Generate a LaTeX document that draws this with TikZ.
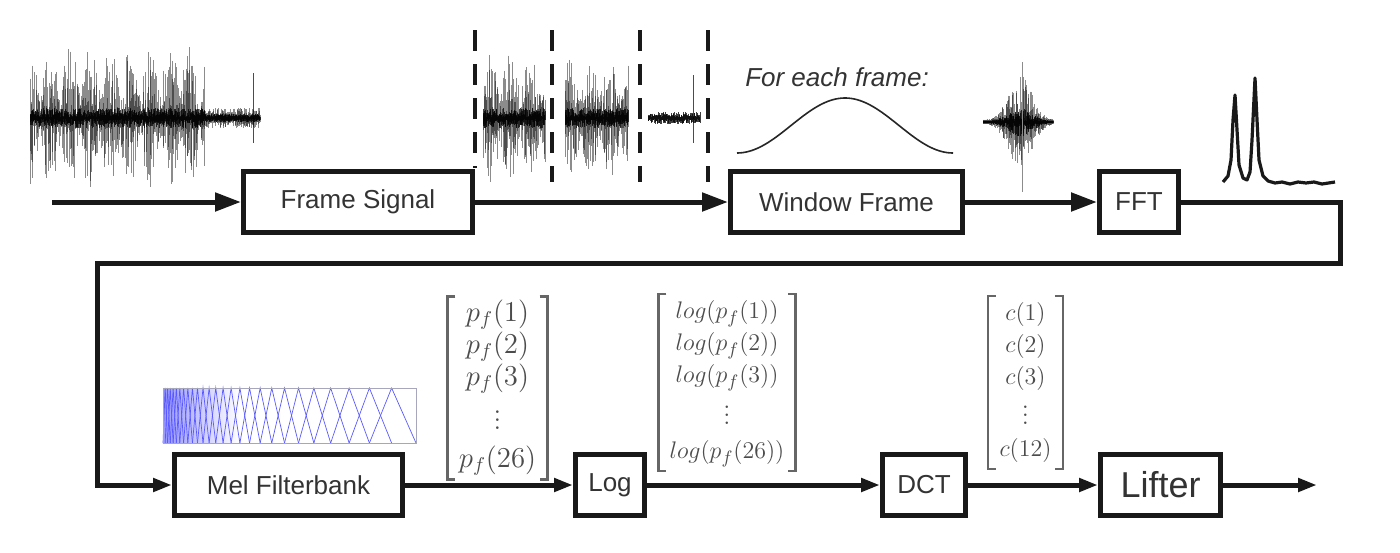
\documentclass[tikz,border=0pt]{standalone}
\usepackage[no-math]{fontspec}
\usepackage{amsmath}
\newfontfamily\lsans{Liberation Sans}
\usetikzlibrary{arrows.meta}
\tikzset{
  box/.style={draw=black!90, line width=2.5pt, inner sep=0pt, minimum height=30.5pt,
    font=\lsans\fontsize{13}{15}\selectfont, text=black!80},
  conn/.style={line width=2.5pt, draw=black!90},
  arrU/.style={conn, -{Triangle[length=13pt,width=9pt]}},
  arrL/.style={conn, -{Triangle[length=9.5pt,width=6.5pt]}},
  vec/.style={font=\fontsize{13}{16}\selectfont, text=black!70, inner xsep=0.5pt, inner ysep=2pt},
  brk/.style={draw=black!60, line width=1.3pt},
  cut/.style={line width=2pt, draw=black!90, dash pattern=on 10.5pt off 6.5pt},
  wavel/.style={black, line width=0.45pt, opacity=0.45},
  wavec/.style={black, line width=0.5pt, opacity=0.75},
  melline/.style={draw=blue!65!white, line width=0.35pt},
}
\begin{document}
\begin{tikzpicture}[x=0.5pt,y=-0.5pt]
\useasboundingbox (0,0) rectangle (1400,552);

% ---------- waveform 1 ----------
\pgfmathsetseed{11}
\foreach \xx in {30,30.5,...,260}{
  \pgfmathsetmacro\ea{\xx<205 ? 68*(0.3+0.7*abs(sin(\xx*9))) : 7}
  \pgfmathsetmacro\ra{rnd}\pgfmathsetmacro\rb{rnd}\pgfmathsetmacro\rc{rnd}\pgfmathsetmacro\rd{rnd}
  \pgfmathsetmacro\up{\ea*\ra*sqrt(\ra)+3}
  \pgfmathsetmacro\dn{\ea*\rb*sqrt(\rb)+3}
  \pgfmathsetmacro\cu{(\xx<205 ? 9 : 3)*\rc+1}
  \pgfmathsetmacro\cd{(\xx<205 ? 9 : 3)*\rd+1}
  \draw[wavel] (\xx,{118-\up}) -- (\xx,{118+\dn});
  \draw[wavec] (\xx,{118-\cu}) -- (\xx,{118+\cd});
}
\draw[wavel,opacity=0.7] (253,73) -- (253,143);

% ---------- framed segments ----------
\pgfmathsetseed{23}
\foreach \xx in {483,483.5,...,545}{
  \pgfmathsetmacro\ea{62*(0.3+0.7*abs(sin(\xx*9)))}
  \pgfmathsetmacro\ra{rnd}\pgfmathsetmacro\rb{rnd}\pgfmathsetmacro\rc{rnd}\pgfmathsetmacro\rd{rnd}
  \pgfmathsetmacro\up{\ea*\ra*sqrt(\ra)+3}
  \pgfmathsetmacro\dn{\ea*\rb*sqrt(\rb)+3}
  \draw[wavel] (\xx,{118-\up}) -- (\xx,{118+\dn});
  \draw[wavec] (\xx,{118-9*\rc-1}) -- (\xx,{118+9*\rd+1});
}
\foreach \xx in {565,565.5,...,628}{
  \pgfmathsetmacro\ea{58*(0.3+0.7*abs(sin(\xx*9)))}
  \pgfmathsetmacro\ra{rnd}\pgfmathsetmacro\rb{rnd}\pgfmathsetmacro\rc{rnd}\pgfmathsetmacro\rd{rnd}
  \pgfmathsetmacro\up{\ea*\ra*sqrt(\ra)+3}
  \pgfmathsetmacro\dn{\ea*\rb*sqrt(\rb)+3}
  \draw[wavel] (\xx,{118-\up}) -- (\xx,{118+\dn});
  \draw[wavec] (\xx,{118-9*\rc-1}) -- (\xx,{118+9*\rd+1});
}
\foreach \xx in {648,648.5,...,700}{
  \pgfmathsetmacro\ra{rnd}\pgfmathsetmacro\rb{rnd}
  \pgfmathsetmacro\up{5*\ra+1}
  \pgfmathsetmacro\dn{5*\rb+1}
  \draw[wavec] (\xx,{118-\up}) -- (\xx,{118+\dn});
}
\draw[wavel,opacity=0.7] (693,75) -- (693,143);

% dashed frame cuts
\draw[cut] (475,30) -- (475,168);
\draw[cut] (552,30) -- (552,182);
\draw[cut] (640,30) -- (640,182);
\draw[cut] (708,30) -- (708,182);

% ---------- window ----------
\node[font=\lsans\itshape\fontsize{13}{15}\selectfont, text=black!80] (fef) at (837,77) {For each frame:};
\draw[black!85, line width=0.8pt] plot[domain=0:216, samples=80] ({737+\x}, {153-55*(0.5-0.5*cos(1.66667*\x))});

% ---------- windowed frame ----------
\pgfmathsetseed{5}
\foreach \xx in {983,983.5,...,1053}{
  \pgfmathsetmacro\ea{46*exp(-((\xx-1020)/16)^2)}
  \pgfmathsetmacro\ra{rnd}\pgfmathsetmacro\rb{rnd}\pgfmathsetmacro\rc{rnd}\pgfmathsetmacro\rd{rnd}
  \pgfmathsetmacro\up{\ea*\ra+2}
  \pgfmathsetmacro\dn{\ea*\rb+2}
  \draw[wavel] (\xx,{122-\up}) -- (\xx,{122+\dn});
  \draw[wavec] (\xx,{122-0.3*\ea*\rc-1}) -- (\xx,{122+0.3*\ea*\rd+1});
}
\draw[black!45, line width=0.4pt] (1022,62) -- (1022,192);

% ---------- spectrum ----------
\draw[black!90, line width=1.6pt, line join=round]
  (1223,182) -- (1228,176) -- (1231,160) -- (1233,120) -- (1235,95) -- (1237,130)
  -- (1239,165) -- (1243,178) -- (1247,180) -- (1250,172) -- (1252,140) -- (1255,78)
  -- (1257,120) -- (1259,160) -- (1263,176) -- (1268,181) -- (1275,183) -- (1282,182)
  -- (1290,184) -- (1298,182) -- (1306,183) -- (1314,182) -- (1322,184) -- (1335,182);

% ---------- mel filterbank picture ----------
\shade[left color=blue!40!white, right color=white] (163,388) rectangle (240,443);
\foreach \i in {1,...,26}{
  \pgfmathsetmacro\fa{163+253*(exp(2.5*(\i-1)/27)-1)/(exp(2.5)-1)}
  \pgfmathsetmacro\fb{163+253*(exp(2.5*\i/27)-1)/(exp(2.5)-1)}
  \pgfmathsetmacro\fc{163+253*(exp(2.5*(\i+1)/27)-1)/(exp(2.5)-1)}
  \draw[melline] (\fa,443) -- (\fb,388) -- (\fc,443);
}
\draw[blue!25!black!35, line width=0.5pt] (163,388) rectangle (416,443);

% ---------- boxes ----------
\node[box, minimum width=114.5pt] (frame) at (358,202) {Frame Signal};
\node[box, minimum width=116pt] (window) at (846.5,202) {Window Frame};
\node[box, minimum width=39.5pt] (fft) at (1139,202) {FFT};
\node[box, minimum width=114pt] (mel) at (288.5,485) {Mel Filterbank};
\node[box, minimum width=34.5pt] (log) at (610,485) {Log};
\node[box, minimum width=41.5pt] (dct) at (924,485) {DCT};
\node[box, minimum width=60pt, font=\lsans\fontsize{18}{20}\selectfont] (lifter) at (1160.5,485) {Lifter};

% ---------- vectors ----------
\node[vec, font=\fontsize{14}{16}\selectfont, inner ysep=1pt] (pf) at (497.5,388) {$\begin{array}{c} p_f(1)\\ p_f(2)\\ p_f(3)\\[2pt] \vdots\\[3pt] p_f(26)\end{array}$};
\node[vec, inner ysep=1pt] (lg) at (727,382.5) {$\begin{array}{c} log(p_f(1))\\ log(p_f(2))\\ log(p_f(3))\\[1pt] \vdots\\[1pt] log(p_f(26))\end{array}$};
\node[vec, inner ysep=1pt] (cc) at (1025.5,382.5) {$\begin{array}{c} c(1)\\ c(2)\\ c(3)\\ \vdots\\ c(12)\end{array}$};
\foreach \m in {pf,lg,cc}{
  \draw[brk] ([xshift=4pt]\m.north west) -- (\m.north west) -- (\m.south west) -- ([xshift=4pt]\m.south west);
  \draw[brk] ([xshift=-4pt]\m.north east) -- (\m.north east) -- (\m.south east) -- ([xshift=-4pt]\m.south east);
}

% ---------- connectors ----------
\coordinate (in) at (52,202);
\coordinate (c1) at (1340,202);
\coordinate (c2) at (1340,263);
\coordinate (c3) at (97,263);
\coordinate (c4) at (97,485);
\coordinate (out) at (1317,485);
\draw[arrU] (in) -- (frame.west);
\draw[arrU] (frame.east) -- (window.west);
\draw[arrU] (window.east) -- (fft.west);
\draw[arrL, line join=miter] (fft.east) -- (c1) -- (c2) -- (c3) -- (c4) -- (mel.west);
\draw[arrL] (mel.east) -- (log.west);
\draw[arrL] (log.east) -- (dct.west);
\draw[arrL] (dct.east) -- (lifter.west);
\draw[arrL] (lifter.east) -- (out);
\end{tikzpicture}
\end{document}
